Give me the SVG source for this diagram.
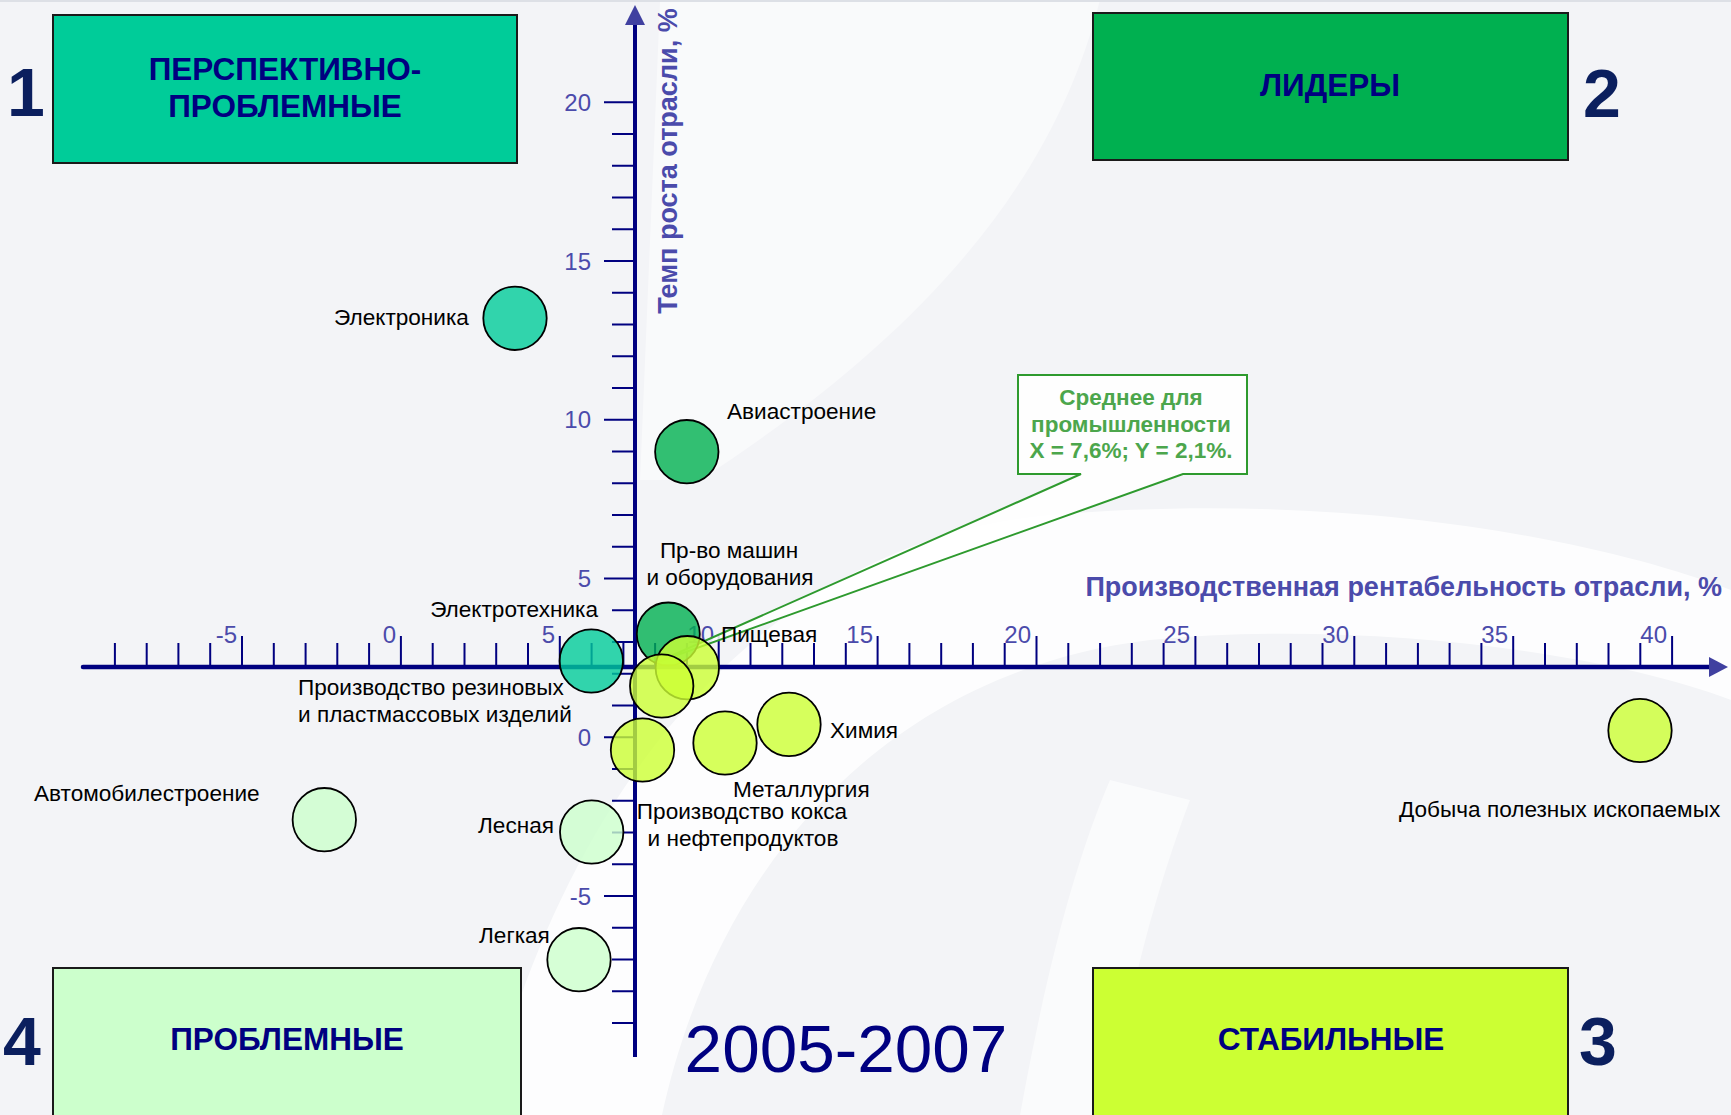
<svg xmlns="http://www.w3.org/2000/svg" width="1731" height="1115" viewBox="0 0 1731 1115">
<style>
.lbl{font-family:"Liberation Sans",Arial,sans-serif;font-size:22.6px;fill:#000}
.ax{font-family:"Liberation Sans",Arial,sans-serif;font-size:24px;fill:#4b4bab}
.axt{font-family:"Liberation Sans",Arial,sans-serif;font-weight:bold;fill:#4b4bab}
.box{stroke:#1a1a1a;stroke-width:2}
.boxt{font-family:"Liberation Sans",Arial,sans-serif;font-weight:bold;font-size:31.5px;fill:#000080;text-anchor:middle}
.num{font-family:"Liberation Sans",Arial,sans-serif;font-weight:bold;font-size:68px;fill:#0b1f5e;text-anchor:middle}
.b{stroke:#000;stroke-width:1.8;fill-opacity:0.8}
.q1{fill:#00cc99}.q2{fill:#00b050}.q3{fill:#ccff33}.q4{fill:#ccffcc}
.tick{stroke:#000080;stroke-width:2;fill:none}
.co{font-family:"Liberation Sans",Arial,sans-serif;font-weight:bold;font-size:22.5px;fill:#4ca64c;text-anchor:middle}
</style>
<rect x="0" y="0" width="1731" height="1115" fill="#f3f4f7"/>
<g id="background" fill="#ffffff">
<path d="M486,1115 C560,800 760,540 1050,515 C1350,490 1600,540 1731,590 V700 C1600,650 1350,620 1150,640 C900,670 720,850 662,1115 Z" opacity="0.8"/>
<path d="M1020,1115 C1050,950 1080,850 1110,780 L1190,800 C1160,880 1130,980 1110,1115 Z" opacity="0.6"/>
<path d="M660,0 H1100 C1050,200 900,350 700,480 L640,480 Z" opacity="0.5"/>
<rect x="0" y="0" width="1731" height="2" fill="#dde0e6"/>
</g>

<g id="box1"><rect class="box" x="53" y="15" width="464" height="148" style="fill:#00cc99"/><text class="boxt" x="285" y="80">ПЕРСПЕКТИВНО-</text><text class="boxt" x="285" y="117">ПРОБЛЕМНЫЕ</text><text class="num" x="26" y="116">1</text></g>
<g id="box2"><rect class="box" x="1093" y="13" width="475" height="147" style="fill:#00b050"/><text class="boxt" x="1330" y="96">ЛИДЕРЫ</text><text class="num" x="1602" y="117">2</text></g>
<g id="box4"><rect class="box" x="53" y="968" width="468" height="160" style="fill:#ccffcc"/><text class="boxt" x="287" y="1050">ПРОБЛЕМНЫЕ</text><text class="num" x="22" y="1065">4</text></g>
<g id="box3"><rect class="box" x="1093" y="968" width="475" height="160" style="fill:#ccff33"/><text class="boxt" x="1331" y="1050">СТАБИЛЬНЫЕ</text><text class="num" x="1598" y="1065">3</text></g>

<g id="axes">
<line x1="83" y1="667" x2="1712" y2="667" stroke="#000080" stroke-width="4.5" stroke-linecap="round"/>
<polygon points="1709,657 1728,667 1709,677" fill="#4040a0"/>
<line x1="635" y1="22" x2="635" y2="1057" stroke="#000080" stroke-width="4"/>
<polygon points="625,25 635,5 645,25" fill="#4040a0"/>
<path class="tick" d="M114.9,643V667M146.7,643V667M178.4,643V667M210.2,643V667M242,636V667M273.8,643V667M305.6,643V667M337.3,643V667M369.1,643V667M400.9,636V667M432.7,643V667M464.5,643V667M496.2,643V667M528,643V667M559.8,636V667M591.6,643V667M623.4,643V667M655.1,643V667M686.9,643V667M718.7,636V667M750.5,643V667M782.3,643V667M814,643V667M845.8,643V667M877.6,636V667M909.4,643V667M941.2,643V667M972.9,643V667M1004.7,643V667M1036.5,636V667M1068.3,643V667M1100.1,643V667M1131.8,643V667M1163.6,643V667M1195.4,636V667M1227.2,643V667M1259,643V667M1290.7,643V667M1322.5,643V667M1354.3,636V667M1386.1,643V667M1417.9,643V667M1449.6,643V667M1481.4,643V667M1513.2,636V667M1545,643V667M1576.8,643V667M1608.5,643V667M1640.3,643V667M1672.1,636V667"/>
<path class="tick" d="M604,102.3H635M612,134.1H635M612,165.8H635M612,197.6H635M612,229.3H635M604,261.1H635M612,292.8H635M612,324.6H635M612,356.3H635M612,388.1H635M604,419.8H635M612,451.6H635M612,483.3H635M612,515.1H635M612,546.8H635M604,578.6H635M612,610.3H635M612,642.1H635M612,673.8H635M612,705.6H635M604,737.3H635M612,769.1H635M612,800.8H635M612,832.6H635M612,864.3H635M604,896.1H635M612,927.8H635M612,959.6H635M612,991.3H635M612,1023.1H635"/>
<g class="ax" text-anchor="end">
<text x="237" y="643">-5</text><text x="396" y="643">0</text><text x="555" y="643">5</text><text x="714" y="643">10</text><text x="873" y="643">15</text><text x="1031" y="643">20</text><text x="1190" y="643">25</text><text x="1349" y="643">30</text><text x="1508" y="643">35</text><text x="1667" y="643">40</text>
<text x="591" y="110.8">20</text><text x="591" y="269.5">15</text><text x="591" y="428.3">10</text><text x="591" y="587">5</text><text x="591" y="745.8">0</text><text x="591" y="904.5">-5</text>
</g>
<text class="axt" x="1722" y="596" font-size="27" text-anchor="end">Производственная рентабельность отрасли, %</text>
<text class="axt" transform="translate(677,161) rotate(-90)" font-size="27" text-anchor="middle">Темп роста отрасли, %</text>
</g>

<g id="connectors">
<path id="callout" d="M1018,375 H1247 V474 H1183 L655,663 L1081,474 H1018 Z" fill="#ffffff" fill-opacity="0.85" stroke="#2e9a2e" stroke-width="2"/>
<text class="co" x="1131" y="405">Среднее для</text>
<text class="co" x="1131" y="431.5">промышленности</text>
<text class="co" x="1131" y="457.5">X = 7,6%; Y = 2,1%.</text>
</g>

<g id="bubbles">
<g id="n-elektronika"><circle class="b q1" cx="515" cy="318.3" r="31.7"/><text class="lbl" x="334" y="325">Электроника</text></g>
<g id="n-avia"><circle class="b q2" cx="686.8" cy="451.7" r="31.7"/><text class="lbl" x="727" y="419.3">Авиастроение</text></g>
<g id="n-mash"><circle class="b q2" cx="668.3" cy="634" r="31.5"/><text class="lbl" x="729" y="558.3" text-anchor="middle">Пр-во машин</text><text class="lbl" x="730" y="585" text-anchor="middle">и оборудования</text></g>
<g id="n-elektroteh"><circle class="b q1" cx="591.3" cy="661" r="31.7"/><text class="lbl" x="598" y="616.7" text-anchor="end">Электротехника</text></g>
<g id="n-pishch"><circle class="b q3" cx="687.3" cy="667.7" r="31.7"/><text class="lbl" x="721" y="642.3">Пищевая</text></g>
<g id="n-rezin"><circle class="b q3" cx="661.7" cy="686" r="31.7"/><text class="lbl" x="298" y="695">Производство резиновых</text><text class="lbl" x="298" y="721.7">и пластмассовых изделий</text></g>
<g id="n-koks"><circle class="b q3" cx="642.5" cy="750" r="31.7"/><text class="lbl" x="742" y="819" text-anchor="middle">Производство кокса</text><text class="lbl" x="743" y="846" text-anchor="middle">и нефтепродуктов</text></g>
<g id="n-metal"><circle class="b q3" cx="725" cy="743" r="31.7"/><text class="lbl" x="733" y="797">Металлургия</text></g>
<g id="n-himiya"><circle class="b q3" cx="789" cy="724.4" r="31.7"/><text class="lbl" x="830" y="737.5">Химия</text></g>
<g id="n-dobycha"><circle class="b q3" cx="1640" cy="730.5" r="31.7"/><text class="lbl" x="1399" y="816.7">Добыча полезных ископаемых</text></g>
<g id="n-avto"><circle class="b q4" cx="324.3" cy="819.7" r="31.7"/><text class="lbl" x="34" y="800.7">Автомобилестроение</text></g>
<g id="n-lesnaya"><circle class="b q4" cx="591.7" cy="832" r="31.7"/><text class="lbl" x="478" y="832.7">Лесная</text></g>
<g id="n-legkaya"><circle class="b q4" cx="579" cy="959.7" r="31.7"/><text class="lbl" x="479" y="943.3">Легкая</text></g>
</g>

<g id="title"><text x="846" y="1072" font-family="'Liberation Sans',Arial,sans-serif" font-size="67.5" fill="#000080" text-anchor="middle">2005-2007</text></g>
</svg>
